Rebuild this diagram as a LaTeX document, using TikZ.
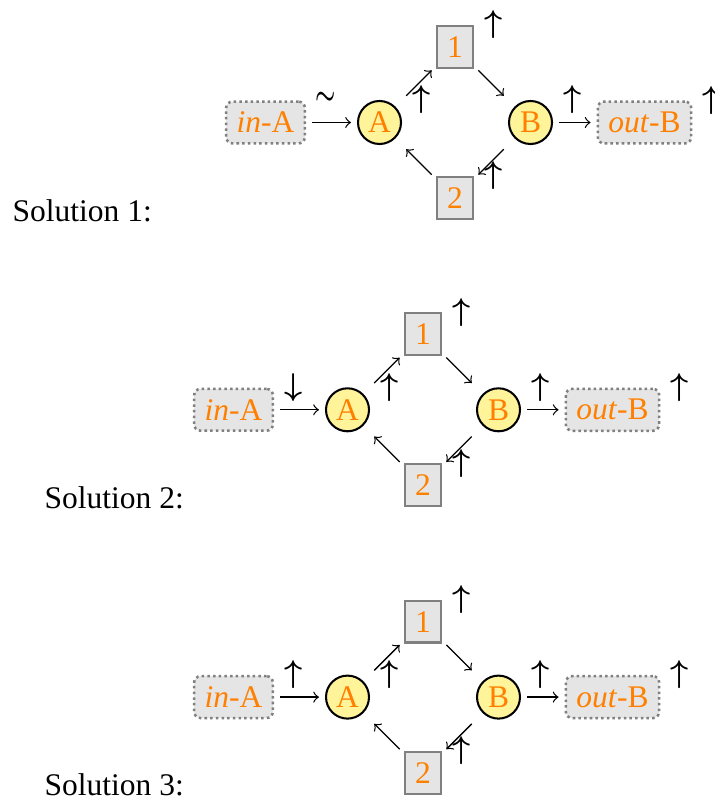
\documentclass[tikz,border=0pt]{standalone}
\usepackage{fontspec}
\setmainfont{Liberation Serif}
\definecolor{nodeorange}{RGB}{255,128,0}
\definecolor{circfill}{RGB}{255,244,153}
\tikzset{
  io/.style={rectangle, rounded corners=2pt, draw=gray, densely dotted, thick,
    fill=gray!20, text=nodeorange, minimum height=13pt, inner sep=3.33pt},
  stepbox/.style={rectangle, draw=gray, line width=0.7pt, fill=gray!20,
    text=nodeorange, minimum width=11.43pt, minimum height=13.33pt, inner sep=0pt},
  circ/.style={circle, draw=black, line width=0.65pt, fill=circfill,
    text=nodeorange, minimum size=13.65pt, inner sep=0pt},
  lbl/.style={inner sep=0pt, xshift=6.2pt, font=\boldmath},
  flow/.style={->, line width=0.4pt, shorten <=1.9pt, shorten >=1.9pt},
  sol/.style={anchor=base west, inner sep=0pt}
}
\newcommand{\soldiagram}[4]{%
  \begin{scope}[shift={(#2,#3)}]
    \node[io] (inA#1) at (265.5,122.5) {\textit{in}-A};
    \node[circ] (A#1) at (379.5,122.5) {A};
    \node[stepbox] (top#1) at (455,47) {1};
    \node[stepbox] (bot#1) at (455,198) {2};
    \node[circ] (B#1) at (530.5,122.5) {B};
    \node[io] (outB#1) at (644.5,122.5) {\textit{out}-B};
    \draw[flow] (inA#1) -- (A#1);
    \draw[flow, shorten <=12pt] (A#1.center) -- (top#1);
    \draw[flow, shorten >=12pt] (top#1) -- (B#1.center);
    \draw[flow, shorten <=12pt] (B#1.center) -- (bot#1);
    \draw[flow, shorten >=12pt] (bot#1) -- (A#1.center);
    \draw[flow] (B#1) -- (outB#1);
    \node[lbl] (linA#1) at (inA#1.north east) {#4};
    \node[lbl] (lA#1) at (A#1.north -| A#1.east) {$\uparrow$};
    \node[lbl] (ltop#1) at (top#1.north east) {$\uparrow$};
    \node[lbl] (lbot#1) at (bot#1.north east) {$\uparrow$};
    \node[lbl] (lB#1) at (B#1.north -| B#1.east) {$\uparrow$};
    \node[lbl] (loutB#1) at (outB#1.north east) {$\uparrow$};
  \end{scope}}
\begin{document}
\begin{tikzpicture}[x=0.31746pt, y=-0.31746pt]
  \useasboundingbox (0,0) rectangle (714,802);
  \soldiagram{1}{0}{0}{\raisebox{1pt}{\scalebox{0.72}[1]{$\sim$}}}
  \soldiagram{2}{-32}{287.3}{$\downarrow$}
  \soldiagram{3}{-32}{574.6}{$\uparrow$}
  \node[sol] (s1) at (12,221.7) {Solution 1:};
  \node[sol] (s2) at (44,508.3) {Solution 2:};
  \node[sol] (s3) at (44,795) {Solution 3:};
\end{tikzpicture}
\end{document}
